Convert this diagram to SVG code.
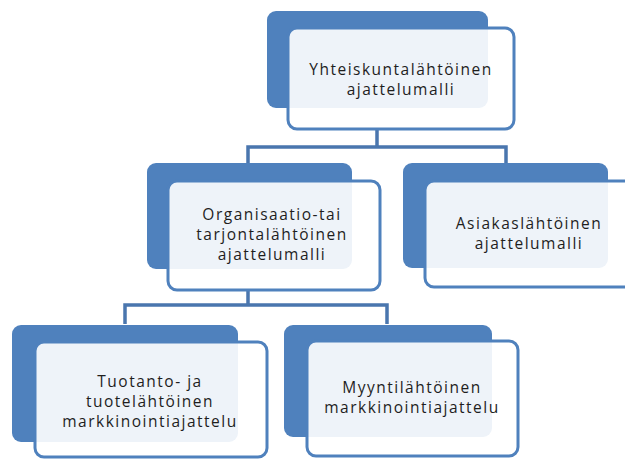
<svg xmlns="http://www.w3.org/2000/svg" width="625" height="460" viewBox="0 0 625 460">
<style>
.back{fill:#4F81BD}
.front{fill:#FFFFFF;fill-opacity:0.9;stroke:#4F81BD;stroke-width:3}
.conn{fill:none;stroke:#4A76AE;stroke-width:3.5}
text{font-family:"Open Sans","DejaVu Sans",sans-serif;font-size:15.5px;fill:#1E1E1E;text-anchor:middle;letter-spacing:1.5px}
</style>
<rect width="625" height="460" fill="#FFFFFF"/>
<g id="connectors">
<path class="conn" d="M377,130 V147 M248,163 V147 H506 V163"/>
<path class="conn" d="M248,290 V305 M125,324 V305 H387 V324"/>
</g>
<g id="n1">
<rect class="back" x="267" y="11" width="221" height="97" rx="9"/>
<rect class="front" x="288" y="28" width="226" height="101" rx="9"/>
<text x="401" y="75">Yhteiskuntalähtöinen</text>
<text x="401" y="95">ajattelumalli</text>
</g>
<g id="n2">
<rect class="back" x="147" y="163" width="205" height="106" rx="9"/>
<rect class="front" x="168" y="181" width="212" height="109" rx="9"/>
<text x="272" y="220">Organisaatio-tai</text>
<text x="272" y="240">tarjontalähtöinen</text>
<text x="272" y="260">ajattelumalli</text>
</g>
<g id="n3">
<rect class="back" x="403" y="163" width="205" height="105" rx="9"/>
<rect class="front" x="425" y="181" width="215" height="106" rx="9"/>
<text x="529" y="229">Asiakaslähtöinen</text>
<text x="529" y="249">ajattelumalli</text>
</g>
<g id="n4">
<rect class="back" x="12" y="325" width="226" height="117" rx="9"/>
<rect class="front" x="35" y="342" width="232" height="115" rx="9"/>
<text x="150" y="387">Tuotanto- ja</text>
<text x="150" y="407">tuotelähtöinen</text>
<text x="150" y="427">markkinointiajattelu</text>
</g>
<g id="n5">
<rect class="back" x="284" y="325" width="208" height="112" rx="9"/>
<rect class="front" x="307" y="341" width="211" height="115" rx="9"/>
<text x="412" y="393">Myyntilähtöinen</text>
<text x="412" y="413">markkinointiajattelu</text>
</g>
</svg>
